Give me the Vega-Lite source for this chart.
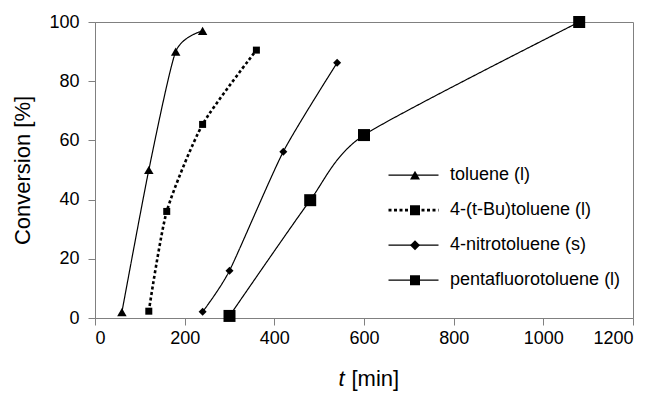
{
  "$schema": "https://vega.github.io/schema/vega-lite/v6.json",
  "width": 538,
  "height": 296,
  "autosize": {"type": "none"},
  "padding": {"left": 95, "top": 22, "right": 22, "bottom": 76},
  "background": "white",
  "config": {
    "font": "Liberation Sans",
    "view": {"stroke": "#808080", "strokeWidth": 1},
    "axis": {
      "domainColor": "#808080",
      "tickColor": "#808080",
      "labelColor": "black",
      "titleColor": "black",
      "labelFont": "Liberation Sans",
      "titleFont": "Liberation Sans",
      "labelFontSize": 18,
      "titleFontSize": 22,
      "titleFontWeight": "normal",
      "grid": false,
      "tickSize": 7
    },
    "legend": {
      "labelFont": "Liberation Sans",
      "labelFontSize": 18,
      "labelColor": "black",
      "labelLimit": 400
    }
  },
  "data": {
    "values": [
      {"t": 60, "conv": 2, "series": "toluene (l)", "marker": "toluene (l)"},
      {"t": 120, "conv": 50, "series": "toluene (l)", "marker": "toluene (l)"},
      {"t": 180, "conv": 90, "series": "toluene (l)", "marker": "toluene (l)"},
      {"t": 240, "conv": 97, "series": "toluene (l)", "marker": "toluene (l)"},
      {"t": 120, "conv": 2.3, "series": "4-(t-Bu)toluene (l)", "marker": "4-(t-Bu)toluene (l)"},
      {"t": 160, "conv": 36, "series": "4-(t-Bu)toluene (l)", "marker": "4-(t-Bu)toluene (l)"},
      {"t": 240, "conv": 65.4, "series": "4-(t-Bu)toluene (l)", "marker": "4-(t-Bu)toluene (l)"},
      {"t": 360, "conv": 90.5, "series": "4-(t-Bu)toluene (l)", "marker": "4-(t-Bu)toluene (l)"},
      {"t": 240, "conv": 2.1, "series": "4-nitrotoluene (s)", "marker": "4-nitrotoluene (s)"},
      {"t": 300, "conv": 16, "series": "4-nitrotoluene (s)", "marker": "4-nitrotoluene (s)"},
      {"t": 420, "conv": 56.2, "series": "4-nitrotoluene (s)", "marker": "4-nitrotoluene (s)"},
      {"t": 540, "conv": 86.2, "series": "4-nitrotoluene (s)", "marker": "4-nitrotoluene (s)"},
      {"t": 300, "conv": 0.7, "series": "pentafluorotoluene (l)", "marker": "pentafluorotoluene (l)"},
      {"t": 480, "conv": 39.8, "series": "pentafluorotoluene (l)", "marker": "pentafluorotoluene (l)"},
      {"t": 600, "conv": 61.8, "series": "pentafluorotoluene (l)", "marker": "pentafluorotoluene (l)"},
      {"t": 1080, "conv": 100, "series": "pentafluorotoluene (l)", "marker": "pentafluorotoluene (l)"}
    ]
  },
  "encoding": {
    "y": {
      "field": "conv",
      "type": "quantitative",
      "scale": {"domain": [0, 100], "nice": false, "zero": false},
      "axis": {
        "values": [0, 20, 40, 60, 80, 100],
        "labelPadding": 9,
        "title": "Conversion [%]",
        "titleAngle": -90,
        "titleAlign": "center",
        "titleBaseline": "middle",
        "titleX": -73,
        "titleY": 148
      }
    }
  },
  "layer": [
    {
      "mark": {"type": "line", "interpolate": "cardinal", "tension": 0.35, "color": "black"},
      "encoding": {
        "x": {
          "field": "t",
          "type": "quantitative",
          "scale": {"domain": [0, 1200], "nice": false},
          "axis": {
            "orient": "bottom",
            "values": [0, 200, 400, 600, 800, 1000, 1200],
            "format": "d",
            "labelPadding": 4,
            "title": "t",
            "titleFontStyle": "italic",
            "titleAlign": "left",
            "titleBaseline": "alphabetic",
            "titleX": 243,
            "titleY": 67
          }
        },
        "strokeDash": {
          "field": "series",
          "type": "nominal",
          "scale": {
            "domain": ["toluene (l)", "4-(t-Bu)toluene (l)", "4-nitrotoluene (s)", "pentafluorotoluene (l)"],
            "range": [[1, 0], [3, 2.5], [1, 0], [1, 0]]
          },
          "legend": {
            "orient": "none",
            "legendX": 292,
            "legendY": 136,
            "title": null,
            "symbolType": "stroke",
            "symbolSize": 2500,
            "symbolStrokeWidth": 1.4,
            "symbolStrokeColor": "black",
            "clipHeight": 34.3,
            "rowPadding": 0,
            "padding": 0,
            "labelOffset": 10
          }
        },
        "strokeWidth": {
          "field": "series",
          "type": "nominal",
          "scale": {
            "type": "ordinal",
            "domain": ["toluene (l)", "4-(t-Bu)toluene (l)", "4-nitrotoluene (s)", "pentafluorotoluene (l)"],
            "range": [1.2, 2.6, 1.2, 1.2]
          },
          "legend": null
        }
      }
    },
    {
      "mark": {"type": "point", "filled": true, "color": "black", "opacity": 1},
      "encoding": {
        "x": {
          "field": "t",
          "type": "quantitative",
          "scale": {"domain": [0, 1200], "nice": false},
          "axis": {
            "orient": "bottom",
            "labels": false,
            "ticks": false,
            "domain": false,
            "title": "[min]",
            "titleAlign": "left",
            "titleBaseline": "alphabetic",
            "titleX": 256,
            "titleY": 67
          }
        },
        "shape": {
          "field": "marker",
          "type": "nominal",
          "sort": ["toluene (l)", "4-(t-Bu)toluene (l)", "4-nitrotoluene (s)", "pentafluorotoluene (l)"],
          "scale": {
            "range": ["triangle-up", "square", "diamond", "square"]
          },
          "legend": {
            "orient": "none",
            "legendX": 311,
            "legendY": 136,
            "title": null,
            "labelExpr": "''",
            "clipHeight": 34.3,
            "rowPadding": 0,
            "padding": 0,
            "symbolFillColor": "black",
            "symbolStrokeColor": "black",
            "encode": {
              "symbols": {"update": {"size": {"scale": "size", "field": "value"}}}
            }
          }
        },
        "size": {
          "field": "marker",
          "type": "nominal",
          "sort": ["toluene (l)", "4-(t-Bu)toluene (l)", "4-nitrotoluene (s)", "pentafluorotoluene (l)"],
          "scale": {
            "type": "ordinal",
            "range": [90, 49, 64, 144]
          },
          "legend": null
        }
      }
    }
  ],
  "resolve": {"axis": {"x": "independent"}}
}
